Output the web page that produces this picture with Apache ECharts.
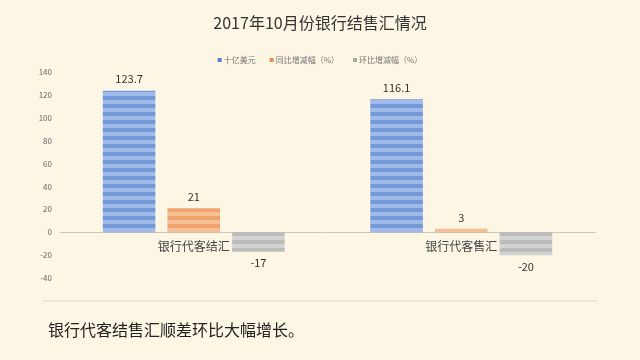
<!DOCTYPE html>
<html><head><meta charset="utf-8">
<script src="https://cdn.jsdelivr.net/npm/echarts@6/dist/echarts.min.js"></script>
<style>html,body{margin:0;padding:0;background:#fdf6e5;}#c{width:640px;height:360px;}</style>
</head><body><div id="c"></div>
<script>
const categories = ['银行代客结汇', '银行代客售汇'];
const seriesNames = ['十亿美元', '同比增减幅（%）', '环比增减幅（%）'];
const valuesBillion = [123.7, 116.1];
const valuesYoY = [21, 3];
const valuesMoM = [-17, -20];
const yTicks = { min: -60, max: 140, interval: 20 };

function stripe(dark, light) {
  const c = document.createElement('canvas');
  c.width = 8; c.height = 8;
  const g = c.getContext('2d');
  g.fillStyle = light; g.fillRect(0, 0, 8, 8);
  g.fillStyle = dark; g.fillRect(0, 0, 8, 4);
  return { image: c, repeat: 'repeat' };
}
const FONT = '"Noto Sans CJK SC", "Noto Sans", sans-serif';
const styles = [
  { pat: stripe('#7598d8', '#a0bbe9'), legend: '#5b7fc8' },
  { pat: stripe('#f0a36c', '#f6c097'), legend: '#ee8c4f' },
  { pat: stripe('#bcbcbc', '#d3d3d3'), legend: '#aaaaaa' }
];
const allValues = [valuesBillion, valuesYoY, valuesMoM];

const chart = echarts.init(document.getElementById('c'));
chart.setOption({
  backgroundColor: '#fdf6e5',
  animation: false,
  title: {
    text: '2017年10月份银行结售汇情况', left: 'center', top: 10,
    textStyle: { fontFamily: FONT, fontSize: 16, fontWeight: 'normal', color: '#333' }
  },
  legend: {
    top: 51, left: 'center', itemWidth: 4, itemHeight: 4, itemGap: 14,
    icon: 'rect',
    textStyle: { fontFamily: FONT, fontSize: 8, color: '#777', padding: [0, 0, 0, -3] },
    data: seriesNames.map((n, i) => ({ name: n, itemStyle: { color: styles[i].legend } }))
  },
  grid: { left: 60, right: 45, top: 72, bottom: 59 },
  xAxis: {
    type: 'category', data: categories,
    axisLine: { onZero: true, lineStyle: { color: '#cfc7b8' } },
    axisTick: { show: false },
    axisLabel: { fontFamily: FONT, fontSize: 12, color: '#444', margin: -61 }
  },
  yAxis: {
    type: 'value', min: yTicks.min, max: yTicks.max, interval: yTicks.interval,
    splitLine: { show: false },
    axisLine: { show: false }, axisTick: { show: false },
    axisLabel: { showMinLabel: false, fontFamily: FONT, fontSize: 8, color: '#666', margin: 8 }
  },
  graphic: [
    { type: 'line', shape: { x1: 42, y1: 301, x2: 598, y2: 301 }, style: { stroke: '#e3dccd', lineWidth: 1 } },
    { type: 'text', left: 48, top: 322, style: { text: '银行代客结售汇顺差环比大幅增长。', font: '16px ' + FONT, fill: '#222' } }
  ],
  series: seriesNames.map((n, i) => ({
    name: n, type: 'bar', barGap: '23%', barCategoryGap: '32%',
    itemStyle: { color: styles[i].pat },
    data: allValues[i].map(v => ({
      value: v,
      label: { show: true, position: v < 0 ? 'bottom' : 'top', distance: 6,
               fontFamily: FONT, fontSize: 11, color: '#333' }
    }))
  }))
});
</script></body></html>
